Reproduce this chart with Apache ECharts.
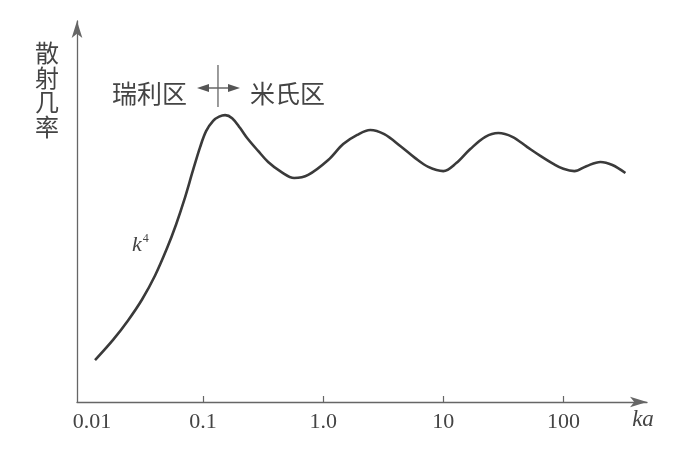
<!DOCTYPE html>
<html>
<head>
<meta charset="utf-8">
<script src="https://cdn.jsdelivr.net/npm/echarts@6/dist/echarts.min.js"></script>
<style>
html,body{margin:0;background:#fff}
#chart{width:697px;height:454px}
</style>
</head>
<body>
<div id="chart"></div>
<script>
// 散射几率随 ka 变化（横轴对数）
const kaValues = [0.01259, 0.01778, 0.02371, 0.03101, 0.03981, 0.05012, 0.05957, 0.06945, 0.08254, 0.09441,
  0.1059, 0.1212, 0.1360, 0.1525, 0.1745, 0.2034, 0.2326, 0.2872, 0.3480, 0.4467,
  0.5732, 0.7499, 1.101, 1.468, 1.920, 2.464, 3.224, 4.382, 5.843, 7.499,
  10.0, 12.83, 16.79, 22.39, 28.73, 37.58, 50.12, 64.31, 82.54, 100,
  123.5, 155.5, 203.4, 256.0, 328.6]
const scatterValues = [11.0, 16.3, 21.4, 26.9, 33.2, 40.4, 46.6, 52.9, 60.9, 66.9,
  71.1, 73.8, 74.9, 75.3, 74.5, 71.9, 69.3, 65.9, 63.0, 60.4,
  58.8, 59.6, 63.5, 67.7, 70.1, 71.4, 70.3, 67.2, 64.0, 61.7,
  60.6, 62.7, 66.4, 69.6, 70.6, 69.6, 66.9, 64.6, 62.5, 61.2,
  60.6, 61.9, 63.0, 62.2, 60.1]
const tickValues = [0.01, 0.1, 1, 10, 100]
const tickLabels = ['0.01', '0.1', '1.0', '10', '100']
const boundaryKa = 0.133

const axisColor = '#666'
const textColor = '#444'

let chart = echarts.init(document.getElementById('chart'))

function getOption(){
  return {
    backgroundColor: '#fff',
    animation: false,
    grid: {left: 77, right: 50, top: 21, bottom: 52},
    xAxis: {
      type: 'log',
      logBase: 10,
      min: 0.00891,
      max: 497,
      name: 'ka',
      nameLocation: 'end',
      nameGap: -4,
      nameTextStyle: {
        fontFamily: 'Liberation Serif', fontStyle: 'italic', fontSize: 23,
        color: textColor, align: 'center', verticalAlign: 'top', padding: [6, 0, 0, 0]
      },
      axisLine: {
        lineStyle: {color: axisColor, width: 1.3},
        symbol: ['none', 'arrow'], symbolSize: [8, 17]
      },
      axisTick: {
        inside: true, length: 6,
        customValues: tickValues.slice(1),
        lineStyle: {color: axisColor, width: 1.2}
      },
      axisLabel: {
        customValues: tickValues,
        margin: 9,
        fontFamily: 'Liberation Serif', fontSize: 22, color: textColor,
        formatter: function(v){
          let i = tickValues.findIndex(t => Math.abs(Math.log10(t) - Math.log10(v)) < 1e-6)
          let s = i >= 0 ? tickLabels[i] : ''
          return i === 0 ? '{a|' + s + '}' : s
        },
        rich: {a: {fontFamily: 'Liberation Serif', fontSize: 22, color: textColor, padding: [0, 0, 0, 18]}}
      },
      splitLine: {show: false}
    },
    yAxis: {
      type: 'value',
      min: 0,
      max: 100,
      axisLine: {
        show: true,
        lineStyle: {color: axisColor, width: 1.3},
        symbol: ['none', 'arrow'], symbolSize: [8, 17]
      },
      axisTick: {show: false},
      axisLabel: {show: false},
      splitLine: {show: false}
    },
    series: [{
      type: 'line',
      data: kaValues.map((k, i) => [k, scatterValues[i]]),
      smooth: 0.35,
      showSymbol: false,
      lineStyle: {color: '#3a3a3a', width: 2.6}
    }]
  }
}

chart.setOption(getOption())

// 瑞利区 / 米氏区 分界标注
let bx = chart.convertToPixel({xAxisIndex: 0}, boundaryKa)
let ay = 88
chart.setOption({
  graphic: [
    {type: 'text', left: 35, top: 41,
      style: {text: '散\n射\n几\n率', font: '24px "Noto Sans CJK SC"', fill: textColor, lineHeight: 24.5}},
    {type: 'text', x: bx - 31, y: ay + 5,
      style: {text: '瑞利区', font: '25px "Noto Sans CJK SC"', fill: textColor, align: 'right', verticalAlign: 'middle'}},
    {type: 'text', x: bx + 32, y: ay + 5,
      style: {text: '米氏区', font: '25px "Noto Sans CJK SC"', fill: textColor, align: 'left', verticalAlign: 'middle'}},
    {type: 'line', shape: {x1: bx, y1: 65, x2: bx, y2: 107}, style: {stroke: axisColor, lineWidth: 1.3}},
    {type: 'line', shape: {x1: bx - 12, y1: ay, x2: bx + 12, y2: ay}, style: {stroke: axisColor, lineWidth: 1.5}},
    {type: 'polygon', shape: {points: [[bx - 21, ay], [bx - 9, ay - 4], [bx - 9, ay + 4]]}, style: {fill: '#555'}},
    {type: 'polygon', shape: {points: [[bx + 22, ay], [bx + 10, ay - 4], [bx + 10, ay + 4]]}, style: {fill: '#555'}},
    {type: 'text', x: 132, y: 233,
      style: {rich: {k: {fontFamily: 'Liberation Serif', fontStyle: 'italic', fontSize: 22, fill: textColor},
        s: {fontFamily: 'Liberation Serif', fontSize: 12, fill: textColor, verticalAlign: 'top', padding: [0, 0, 12, 1]}},
        text: '{k|k}{s|4}'}}
  ]
})
</script>
</body>
</html>
